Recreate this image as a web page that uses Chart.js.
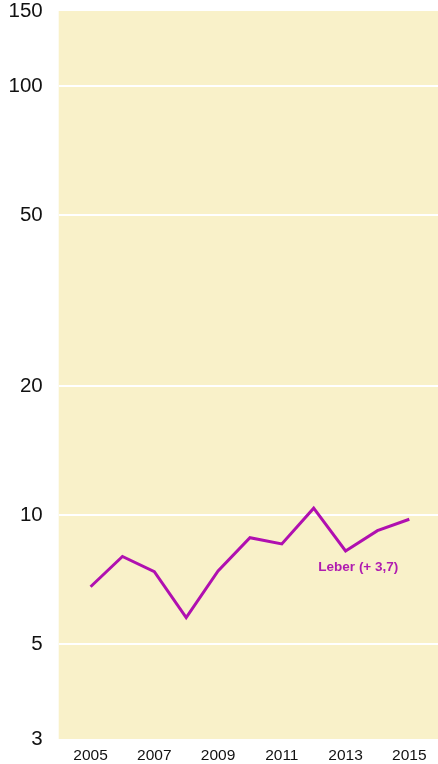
<!DOCTYPE html>
<html>
<head>
<meta charset="utf-8">
<script src="https://cdn.jsdelivr.net/npm/chart.js@4/dist/chart.umd.min.js"></script>
<style>
html,body{margin:0;padding:0;background:#fff;}
#wrap{width:438px;height:764px;position:relative;}
</style>
</head>
<body>
<div id="wrap"><canvas id="c" width="438" height="764"></canvas></div>
<script>
const years = [2005, 2006, 2007, 2008, 2009, 2010, 2011, 2012, 2013, 2014, 2015];
const values = [6.8, 8.0, 7.37, 5.76, 7.4, 8.85, 8.56, 10.37, 8.24, 9.19, 9.77];
const yTicks = [3, 5, 10, 20, 50, 100, 150];
const xTicks = [2005, 2007, 2009, 2011, 2013, 2015];
const seriesLabel = 'Leber (+ 3,7)';
const labelAt = {x: 2013.4, y: 7.56};

const bgPlugin = {
  id: 'bg',
  beforeDraw(chart) {
    const {ctx, chartArea: a} = chart;
    ctx.save();
    ctx.fillStyle = '#f9f1c9';
    ctx.fillRect(a.left, a.top, a.right - a.left, a.bottom - a.top);
    ctx.restore();
  },
  afterDatasetsDraw(chart) {
    const {ctx, scales} = chart;
    ctx.save();
    ctx.font = 'bold 13.5px "Liberation Sans", Arial, sans-serif';
    ctx.fillStyle = '#b01cb0';
    ctx.textAlign = 'center';
    ctx.textBaseline = 'middle';
    ctx.fillText(seriesLabel, scales.x.getPixelForValue(labelAt.x), scales.y.getPixelForValue(labelAt.y));
    ctx.restore();
  }
};

new Chart(document.getElementById('c'), {
  type: 'line',
  data: {
    datasets: [{
      data: years.map((y, i) => ({x: y, y: values[i]})),
      borderColor: '#b010b0',
      borderWidth: 3,
      pointRadius: 0,
      tension: 0,
      fill: false
    }]
  },
  options: {
    responsive: false,
    animation: false,
    layout: {padding: {top: 11, right: 0, left: 0, bottom: 0}},
    plugins: {legend: {display: false}, tooltip: {enabled: false}},
    scales: {
      x: {
        type: 'linear',
        min: 2004,
        max: 2015.9,
        afterBuildTicks(s) { s.ticks = xTicks.map(v => ({value: v})); },
        afterFit(s) { s.height = 25; s.paddingLeft = 0; s.paddingRight = 0; },
        grid: {display: false, drawTicks: false},
        border: {display: false},
        ticks: {
          padding: 7,
          color: '#111',
          maxRotation: 0,
          autoSkip: false,
          font: {family: '"Liberation Sans", Arial, sans-serif', size: 15.5},
          callback: v => String(v)
        }
      },
      y: {
        type: 'logarithmic',
        min: 3,
        max: 150,
        afterBuildTicks(s) { s.ticks = yTicks.map(v => ({value: v})); },
        afterFit(s) { s.width = 58.7; s.paddingTop = 0; s.paddingBottom = 0; },
        grid: {
          drawTicks: false,
          lineWidth: 2,
          color: ctx => (ctx.tick && (ctx.tick.value === 3 || ctx.tick.value === 150)) ? 'rgba(0,0,0,0)' : '#ffffff'
        },
        border: {display: false},
        ticks: {
          padding: 16,
          color: '#111',
          autoSkip: false,
          font: {family: '"Liberation Sans", Arial, sans-serif', size: 20.5},
          callback: v => String(v)
        }
      }
    }
  },
  plugins: [bgPlugin]
});
</script>
</body>
</html>
